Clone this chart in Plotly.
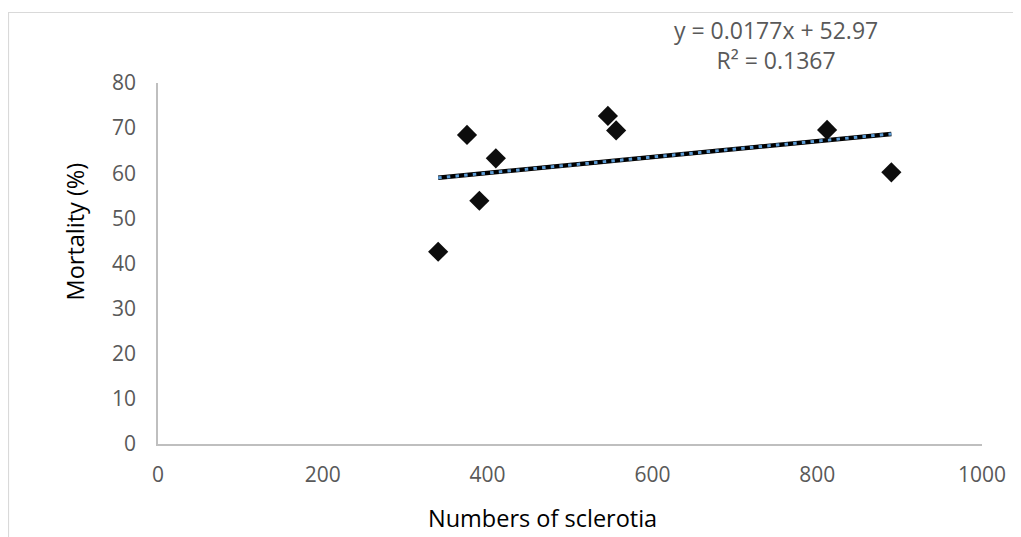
import numpy as np
import plotly.graph_objects as go

# Data
sclerotia = [340, 375, 390, 410, 546, 556, 812, 890]
mortality = [42.6, 68.5, 53.9, 63.3, 72.7, 69.5, 69.6, 60.2]

slope = 0.0177
intercept = 52.97
r_squared = 0.1367

x_ticks = [0, 200, 400, 600, 800, 1000]
y_ticks = [0, 10, 20, 30, 40, 50, 60, 70, 80]

OFF = 8  # page body margin
W, H = 1013, 529
L, T = 158 - OFF, 83 - OFF
R = W - (982 - OFF)
B = H - (444 - OFF)
pw, ph = W - L - R, H - T - B


def px_x(p):  # page pixel -> paper x
    return (p - OFF - L) / pw


def px_y(p):  # page pixel -> paper y
    return (H - B - (p - OFF)) / ph


trend_x = np.array([min(sclerotia), max(sclerotia)])
trend_y = slope * trend_x + intercept

font = "Open Sans"
tick_col = "#595959"

fig = go.Figure()
fig.add_trace(go.Scatter(
    x=trend_x, y=trend_y, mode="lines",
    line=dict(color="#000000", width=4.5),
    hoverinfo="skip", showlegend=False))
fig.add_trace(go.Scatter(
    x=trend_x, y=trend_y, mode="lines",
    line=dict(color="#5B9BD5", width=3, dash="3.5px,5.2px"),
    hoverinfo="skip", showlegend=False))
fig.add_trace(go.Scatter(
    x=sclerotia, y=mortality, mode="markers",
    marker=dict(symbol="diamond", size=15.5, color="#0D0D0D", line=dict(width=0)),
    showlegend=False))

fig.update_layout(
    width=W, height=H,
    margin=dict(l=L, r=R, t=T, b=B),
    paper_bgcolor="white", plot_bgcolor="white",
    font=dict(family=font, size=21, color=tick_col),
    xaxis=dict(
        range=[0, 1000], tickvals=x_ticks, showgrid=False, zeroline=False,
        showline=True, linecolor="#BFBFBF", linewidth=1.5, ticks="",
        ticklabelstandoff=11,
        tickfont=dict(family=font, size=21, color=tick_col),
    ),
    yaxis=dict(
        range=[0, 80], tickvals=y_ticks, showgrid=False, zeroline=False,
        showline=True, linecolor="#BFBFBF", linewidth=1.5, ticks="",
        ticklabelstandoff=16,
        tickfont=dict(family=font, size=21, color=tick_col),
    ),
    shapes=[dict(
        type="rect", xref="paper", yref="paper",
        x0=px_x(8.5), x1=px_x(1060), y0=px_y(580), y1=px_y(12.5),
        line=dict(color="#D9D9D9", width=1.2), fillcolor="rgba(0,0,0,0)",
        layer="below")],
    annotations=[
        dict(text="Numbers of sclerotia", xref="paper", yref="paper",
             x=px_x(542), y=px_y(518), showarrow=False,
             xanchor="center", yanchor="middle",
             font=dict(family=font, size=23.5, color="#000000")),
        dict(text="Mortality (%)", xref="paper", yref="paper",
             x=px_x(75), y=px_y(231.5), showarrow=False, textangle=-90,
             xanchor="center", yanchor="middle",
             font=dict(family=font, size=23.5, color="#000000")),
        dict(text=f"y = {slope}x + {intercept}<br>R² = {r_squared}",
             xref="paper", yref="paper",
             x=px_x(775.5), y=px_y(44.5), showarrow=False,
             xanchor="center", yanchor="middle", align="center",
             font=dict(family=font, size=23, color=tick_col)),
    ],
)

fig.write_html("out.html")
